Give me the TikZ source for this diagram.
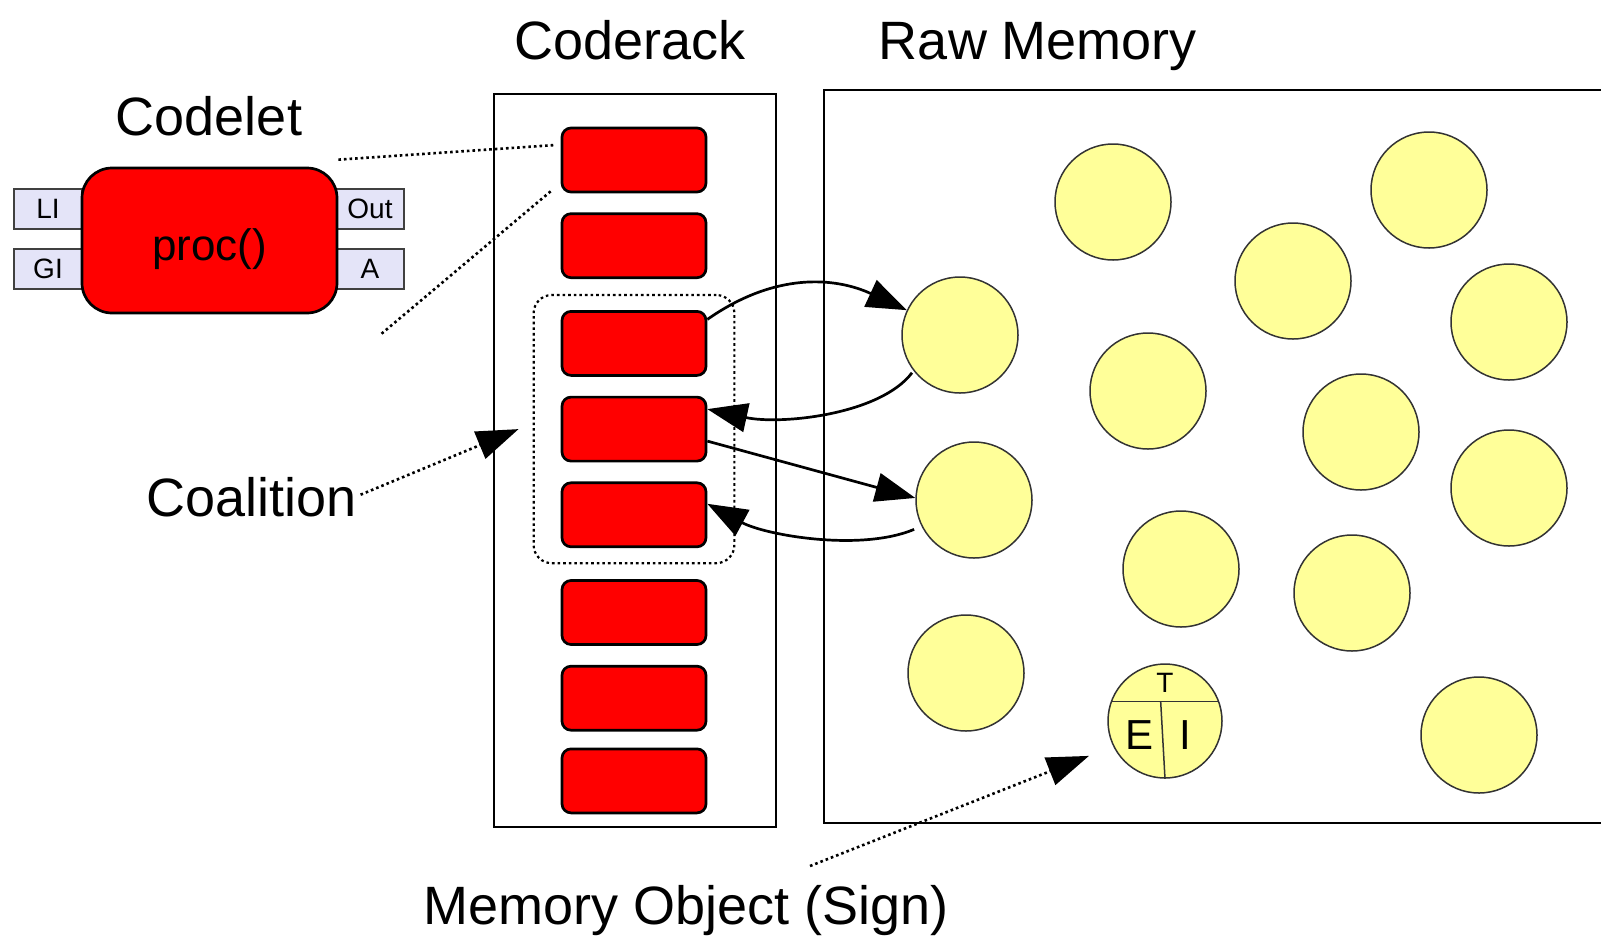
\documentclass[tikz,border=0pt]{standalone}
\usepackage{fontspec}
\setmainfont{Liberation Sans}
\usetikzlibrary{positioning,arrows.meta,fit,calc}
\definecolor{memyellow}{HTML}{FFFF99}
\definecolor{portblue}{HTML}{E4E4F8}

\begin{document}
\begin{tikzpicture}[x=1pt, y=-1pt, node distance={19pt},
    cdl/.style = {draw, line width=2.7pt, fill=red, rounded corners=9pt, minimum width=144pt, minimum height=64pt},
    mem/.style = {circle, draw=black!80, line width=1.5pt, fill=memyellow, minimum size=116pt},
    port/.style = {draw=black!75, line width=2pt, fill=portblue, minimum width=68pt, minimum height=40pt, font=\fontsize{28}{30}\selectfont},
    title/.style = {anchor=base, font=\fontsize{54}{60}\selectfont},
    dots/.style = {line width=2.6pt, dash pattern=on 2.6pt off 3pt},
    arr/.style = {line width=2.7pt, -{Triangle[length=40pt,width=29pt]}}]

    \useasboundingbox (0,0) rectangle (1601,935);

    \node[title] (t1) at (630,59) {Coderack};
    \node[title] (t2) at (1038,59) {Raw Memory};
    \node[title] (t3) at (209,135) {Codelet};
    \node[title] (t4) at (252,516) {Coalition};
    \node[title] (t5) at (686,924) {Memory Object (Sign)};

    \draw[line width=2.7pt] (494,94) rectangle (776,827);
    \draw[line width=2.7pt] (1601,90) -- (824,90) -- (824,823) -- (1601,823);

    \node[port] (li) at (48,209) {LI};
    \node[port] (gi) at (48,269) {GI};
    \node[port] (out) at (370,209) {Out};
    \node[port] (a) at (370,269) {A};
    \node[draw, line width=2.7pt, fill=red, rounded corners=30pt, minimum width=255pt, minimum height=145pt,
        text height=48pt, text depth=9pt, font=\fontsize{44}{48}\selectfont] (cd) at (209.5,240.5) {proc()};

    \node[cdl] (c1) at (634,160) {};
    \node[cdl] (c2) [below=of c1] {};
    \node[cdl] (c3) [below=31pt of c2] {};
    \node[cdl] (c4) [below=of c3] {};
    \node[cdl] (c5) [below=of c4] {};
    \node[cdl] (c6) [below=31pt of c5] {};
    \node[cdl] (c7) [below=of c6] {};
    \node[cdl] (c8) [below=16pt of c7] {};

    \node[draw, dots, line width=2.2pt, rounded corners=18pt, fit=(c3)(c5), inner xsep=27pt, inner ysep=15pt] (coal) {};

    \node[mem] (m1) at (1113,202) {};
    \node[mem] (m2) at (1429,190) {};
    \node[mem] (m3) at (1293,281) {};
    \node[mem] (m4) at (1509,322) {};
    \node[mem] (m5) at (960,335) {};
    \node[mem] (m6) at (1148,391) {};
    \node[mem] (m7) at (1361,432) {};
    \node[mem] (m8) at (1509,488) {};
    \node[mem] (m9) at (974,500) {};
    \node[mem] (m10) at (1181,569) {};
    \node[mem] (m11) at (1352,593) {};
    \node[mem] (m12) at (966,673) {};
    \node[mem, minimum size=114pt] (m13) at (1165,721) {};
    \node[mem] (m14) at (1479,735) {};

    \draw[line width=1.5pt, black!80] (m13.160) -- (m13.20);
    \draw[line width=1.5pt, black!80] ($(m13.160)!0.46!(m13.20)$) -- (m13.270);
    \node[font=\fontsize{28}{30}\selectfont] (tt) at (1165,683) {T};
    \node[font=\fontsize{42}{46}\selectfont] (te) at (1139,735) {E};
    \node[font=\fontsize{42}{46}\selectfont] (ti) at (1185,735) {I};

    \draw[dots] ([yshift=7pt]cd.north east) -- ([shift={(-5pt,15pt)}]c1.west);
    \coordinate (cl) at (380,335);
    \draw[dots] ([shift={(-10pt,2pt)}]c1.south west) -- (cl);

    \draw[arr] ([yshift=24pt]c3.east) .. controls (775,272) and (835,277) .. (m5.155);
    \draw[arr] ([xshift=-3pt]m5.220) .. controls (880,415) and (780,425) .. ([yshift=20pt]c4.east);
    \draw[arr] ([yshift=-12pt]c4.east) -- (m9.178);
    \draw[arr] ([xshift=-9pt]m9.210) .. controls (860,552) and (765,535) .. ([yshift=11pt]c5.east);

    \draw[dots, -{Triangle[length=42pt,width=29pt]}] ([yshift=2pt]t4.east) -- ([xshift=-14pt]coal.west);
    \coordinate (mo) at (810,866);
    \draw[dots, -{Triangle[length=42pt,width=29pt]}] (mo) -- ([shift={(-26pt,-6pt)}]m13.210);
\end{tikzpicture}
\end{document}
